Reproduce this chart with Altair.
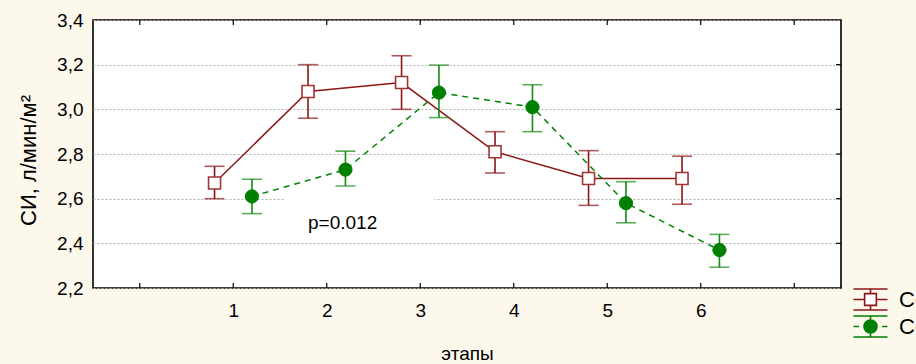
import altair as alt
import pandas as pd

# ---- data ----
stages = [1, 2, 3, 4, 5, 6]
series_names = ["Серия 1", "Серия 2"]
offsets = [-0.2, 0.2]

s1_mean = [2.67, 3.08, 3.12, 2.81, 2.69, 2.69]
s1_lo = [2.60, 2.96, 3.00, 2.715, 2.57, 2.575]
s1_hi = [2.745, 3.20, 3.24, 2.90, 2.815, 2.79]

s2_mean = [2.61, 2.73, 3.075, 3.01, 2.58, 2.37]
s2_lo = [2.533, 2.657, 2.963, 2.90, 2.492, 2.293]
s2_hi = [2.687, 2.813, 3.198, 3.11, 2.676, 2.44]

x_ticks = [0, 1, 2, 3, 4, 5, 6, 7]
y_ticks = [2.2, 2.4, 2.6, 2.8, 3.0, 3.2, 3.4]

p_text = "p=0.012"
p_x, p_y = 2.17, 2.49
box_x, box_x2, box_y, box_y2 = 1.55, 3.15, 2.45, 2.62

RED = "#8c1616"
RED_SQ = "#9e3434"
GREEN = "#008000"
GREEN_EB = "#158a15"

rows = []
for name, off, m, lo, hi in [
    (series_names[0], offsets[0], s1_mean, s1_lo, s1_hi),
    (series_names[1], offsets[1], s2_mean, s2_lo, s2_hi),
]:
    for st, a, b, c in zip(stages, m, lo, hi):
        rows.append({"series": name, "stage": st, "xpos": st + off, "mean": a, "lo": b, "hi": c})
df = pd.DataFrame(rows)
d1 = df[df.series == series_names[0]]
d2 = df[df.series == series_names[1]]

xscale = alt.Scale(domain=[-0.5, 7.5], nice=False, zero=False)
yscale = alt.Scale(domain=[2.2, 3.4], nice=False, zero=False)

xaxis = alt.Axis(
    values=stages, format="d", ticks=False, domain=False, grid=False,
    labelFontSize=19, labelPadding=13, labelColor="#000", labelFont="Liberation Sans",
    title="этапы", titleFontSize=19, titleFontWeight="normal", titleFont="Liberation Sans",
    titleColor="#000", titleY=65, titleBaseline="middle",
)
yaxis = alt.Axis(
    values=y_ticks, ticks=False, domain=False, grid=True,
    gridColor="#b4b4b4", gridDash=[2, 2], gridWidth=1,
    labelExpr="replace(format(datum.value, '.1f'), '.', ',')",
    labelFontSize=19, labelPadding=10, labelColor="#000", labelFont="Liberation Sans",
    title="СИ, л/мин/м²", titleFontSize=22, titleFontWeight="normal", titleFont="Liberation Sans",
    titleColor="#000", titleX=-65, titleY=140, titleAngle=-90, titleAlign="center",
    titleBaseline="middle",
)

X = alt.X("xpos:Q", scale=xscale, axis=xaxis)
Y = alt.Y("mean:Q", scale=yscale, axis=yaxis)

# white box behind the p label
box_df = pd.DataFrame({"xpos": [box_x], "x2": [box_x2], "mean": [box_y], "y2": [box_y2]})
box = alt.Chart(box_df).mark_rect(fill="white").encode(
    x=X, x2="x2:Q", y=Y, y2="y2:Q"
)

# inward frame ticks
xt_df = pd.DataFrame({"xpos": x_ticks})
yt_df = pd.DataFrame({"mean": y_ticks[1:-1]})
tick_bottom = alt.Chart(xt_df).mark_rule(color="black", strokeWidth=1.2).encode(
    x=X, y=alt.value(268), y2=alt.value(263))
tick_top = alt.Chart(xt_df).mark_rule(color="black", strokeWidth=1.2).encode(
    x=X, y=alt.value(0), y2=alt.value(5))
tick_right = alt.Chart(yt_df).mark_rule(color="black", strokeWidth=1.2).encode(
    y=Y, x=alt.value(748), x2=alt.value(743))

line1 = alt.Chart(d1).mark_line(color=RED, strokeWidth=1.5).encode(x=X, y=Y)
line2 = alt.Chart(d2).mark_line(color=GREEN, strokeWidth=1.5, strokeDash=[6, 5]).encode(x=X, y=Y)

def errbars(d, col):
    rule = alt.Chart(d).mark_rule(color=col, strokeWidth=1.6).encode(
        x=X, y=alt.Y("lo:Q", scale=yscale, axis=yaxis), y2="hi:Q")
    cap_lo = alt.Chart(d).mark_tick(color=col, orient="horizontal", size=20, thickness=1.6).encode(
        x=X, y=alt.Y("lo:Q", scale=yscale, axis=yaxis))
    cap_hi = alt.Chart(d).mark_tick(color=col, orient="horizontal", size=20, thickness=1.6).encode(
        x=X, y=alt.Y("hi:Q", scale=yscale, axis=yaxis))
    return rule + cap_lo + cap_hi

eb1 = errbars(d1, RED)
eb2 = errbars(d2, GREEN_EB)

pts1 = alt.Chart(d1).mark_point(shape="square", size=144, fill="white", filled=True,
                                stroke=RED_SQ, strokeWidth=1.6, opacity=1).encode(x=X, y=Y)
pts2 = alt.Chart(d2).mark_point(shape="circle", size=175, fill=GREEN, filled=True,
                                stroke=GREEN, strokeWidth=1, opacity=1).encode(x=X, y=Y)

# legend (symbols drawn with custom SVG paths)
path_red = ("M-1.62,-1H1.62M-1.62,1H1.62M0,-1V-0.56M0,0.56V1"
            "M-1.62,0H-0.56M0.56,0H1.62M-0.56,-0.56H0.56V0.56H-0.56Z")
path_green = ("M-1.62,-1H1.62M-1.62,1H1.62M0,-1V-0.62M0,0.62V1"
              "M-1.62,0H-1.1M1.1,0H1.62"
              "M-0.62,0A0.62,0.62,0,1,1,0.62,0A0.62,0.62,0,1,1,-0.62,0Z")
leg = alt.Legend(
    title=None, orient="none", legendX=766, legendY=268, padding=0,
    symbolSize=441, symbolStrokeWidth=1.6, symbolOpacity=1,
    labelFontSize=22, labelFont="Liberation Sans", labelColor="#000",
    labelOffset=17, rowPadding=-2, labelLimit=300,
)
legend_layer = alt.Chart(df).mark_point(opacity=0, filled=True).encode(
    x=X, y=Y,
    shape=alt.Shape("series:N", scale=alt.Scale(domain=series_names, range=[path_red, path_green]), legend=leg),
    stroke=alt.Stroke("series:N", scale=alt.Scale(domain=series_names, range=[RED, GREEN]), legend=leg),
    fill=alt.Fill("series:N", scale=alt.Scale(domain=series_names, range=["white", GREEN]), legend=leg),
)

txt_df = pd.DataFrame({"xpos": [p_x], "mean": [p_y], "label": [p_text]})
txt = alt.Chart(txt_df).mark_text(fontSize=19, font="Liberation Sans", color="#000",
                                  align="center", baseline="middle").encode(x=X, y=Y, text="label:N")

chart = alt.layer(
    box, tick_bottom, tick_top, tick_right,
    line1, line2, eb1, eb2, pts1, pts2, legend_layer, txt,
).properties(
    width=748, height=268,
    autosize=alt.AutoSizeParams(type="none"),
    padding={"left": 93, "top": 20, "right": 75, "bottom": 76},
    background="#fdf8ec",
).configure_view(
    fill="white", stroke="black", strokeWidth=1.6
)

chart.save("out.html", embed_options={"renderer": "svg", "actions": False})
